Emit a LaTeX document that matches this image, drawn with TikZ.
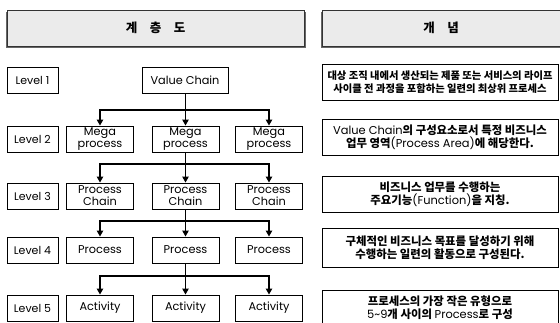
\documentclass[tikz,border=0pt]{standalone}
\usepackage{fontspec}
\setmainfont{Poppins}
\newfontfamily\kr{Noto Sans CJK KR}
\usetikzlibrary{arrows.meta}
\begin{document}
\begin{tikzpicture}[x=1pt,y=-1pt,
  box/.style={draw=black,line width=1pt,fill=white,inner sep=0pt,align=center,font=\fontsize{11.3}{12.2}\selectfont},
  lvl/.style={box,minimum width=51pt,minimum height=26pt,font=\fontsize{11}{12}\selectfont},
  tb/.style={box,minimum width=67pt,minimum height=26pt},
  desc/.style={box,minimum width=236pt,font=\fontsize{11.4}{13}\selectfont},
  hdr/.style={draw=black!80,line width=0.8pt,fill=black!8,inner sep=0pt,font=\kr\fontsize{12.5}{14}\selectfont\bfseries},
  arr/.style={line width=1.1pt,-{Triangle[length=6pt,width=6.5pt]}}]
\useasboundingbox (0,0) rectangle (560,322);
% headers
\fill[black!60] (6,12) rectangle (306,48);
\node[hdr,minimum width=297pt,minimum height=36pt] (h1) at (155.5,28) {계\quad 층\quad 도};
\fill[black!60] (321,12) rectangle (562,48);
\node[hdr,minimum width=238pt,minimum height=36pt] (h2) at (441,28) {개\quad 념};
% level boxes
\node[lvl] (l1) at (32.5,80) {Level 1};
\node[lvl] (l2) at (32.5,139) {Level 2};
\node[lvl] (l3) at (32.5,196) {Level 3};
\node[lvl] (l4) at (32.5,250) {Level 4};
\node[lvl] (l5) at (32.5,308) {Level 5};
% tree
\node[box,minimum width=86pt,minimum height=26pt] (vc) at (185,80) {Value Chain};
\node[tb] (m1) at (100,139) {Mega\\process};
\node[tb] (m2) at (185.5,139) {Mega\\process};
\node[tb] (m3) at (269,139) {Mega\\process};
\node[tb] (p1) at (100,196) {Process\\Chain};
\node[tb] (p2) at (185.5,196) {Process\\Chain};
\node[tb] (p3) at (269,196) {Process\\Chain};
\node[tb] (q1) at (100,250) {Process};
\node[tb] (q2) at (185.5,250) {Process};
\node[tb] (q3) at (269,250) {Process};
\node[tb] (a1) at (100,308) {Activity};
\node[tb] (a2) at (185.5,308) {Activity};
\node[tb] (a3) at (269,308) {Activity};
\coordinate (j1) at (185.5,110);
\coordinate (j2) at (185.5,164);
\coordinate (j3) at (185.5,221);
\coordinate (j4) at (185.5,276);
\draw[arr] (vc.south -| m2.north) -- (m2.north);
\draw[arr] (j1) -| (m1.north);
\draw[arr] (j1) -| (m3.north);
\draw[arr] (m2) -- (p2);
\draw[arr] (j2) -| (p1.north);
\draw[arr] (j2) -| (p3.north);
\draw[arr] (p2) -- (q2);
\draw[arr] (j3) -| (q1.north);
\draw[arr] (j3) -| (q3.north);
\draw[arr] (q2) -- (a2);
\draw[arr] (j4) -| (a1.north);
\draw[arr] (j4) -| (a3.north);
% descriptions
\node[desc,minimum height=36pt,font=\kr\fontsize{10.3}{12.5}\selectfont\bfseries] (d1) at (440,82) {대상 조직 내에서 생산되는 제품 또는 서비스의 라이프\\사이클 전 과정을 포함하는 일련의 최상위 프로세스};
\node[desc,minimum height=36pt] (d2) at (440,137) {Value Chain{\kr\bfseries 의 구성요소로서 특정 비즈니스}\\{\kr\bfseries 업무 영역}(Process Area){\kr\bfseries 에 해당한다.}};
\node[desc,minimum height=36pt] (d3) at (440,194) {{\kr\bfseries 비즈니스 업무를 수행하는}\\{\kr\bfseries 주요기능}(Function){\kr\bfseries 을 지칭.}};
\node[desc,minimum height=39pt] (d4) at (440,247.5) {{\kr\bfseries 구체적인 비즈니스 목표를 달성하기 위해}\\{\kr\bfseries 수행하는 일련의 활동으로 구성된다.}};
\node[desc,minimum height=36pt] (d5) at (440,308) {{\kr\bfseries 프로세스의 가장 작은 유형으로}\\5\textasciitilde 9{\kr\bfseries 개 사이의 }Process{\kr\bfseries 로 구성}};
\end{tikzpicture}
\end{document}
